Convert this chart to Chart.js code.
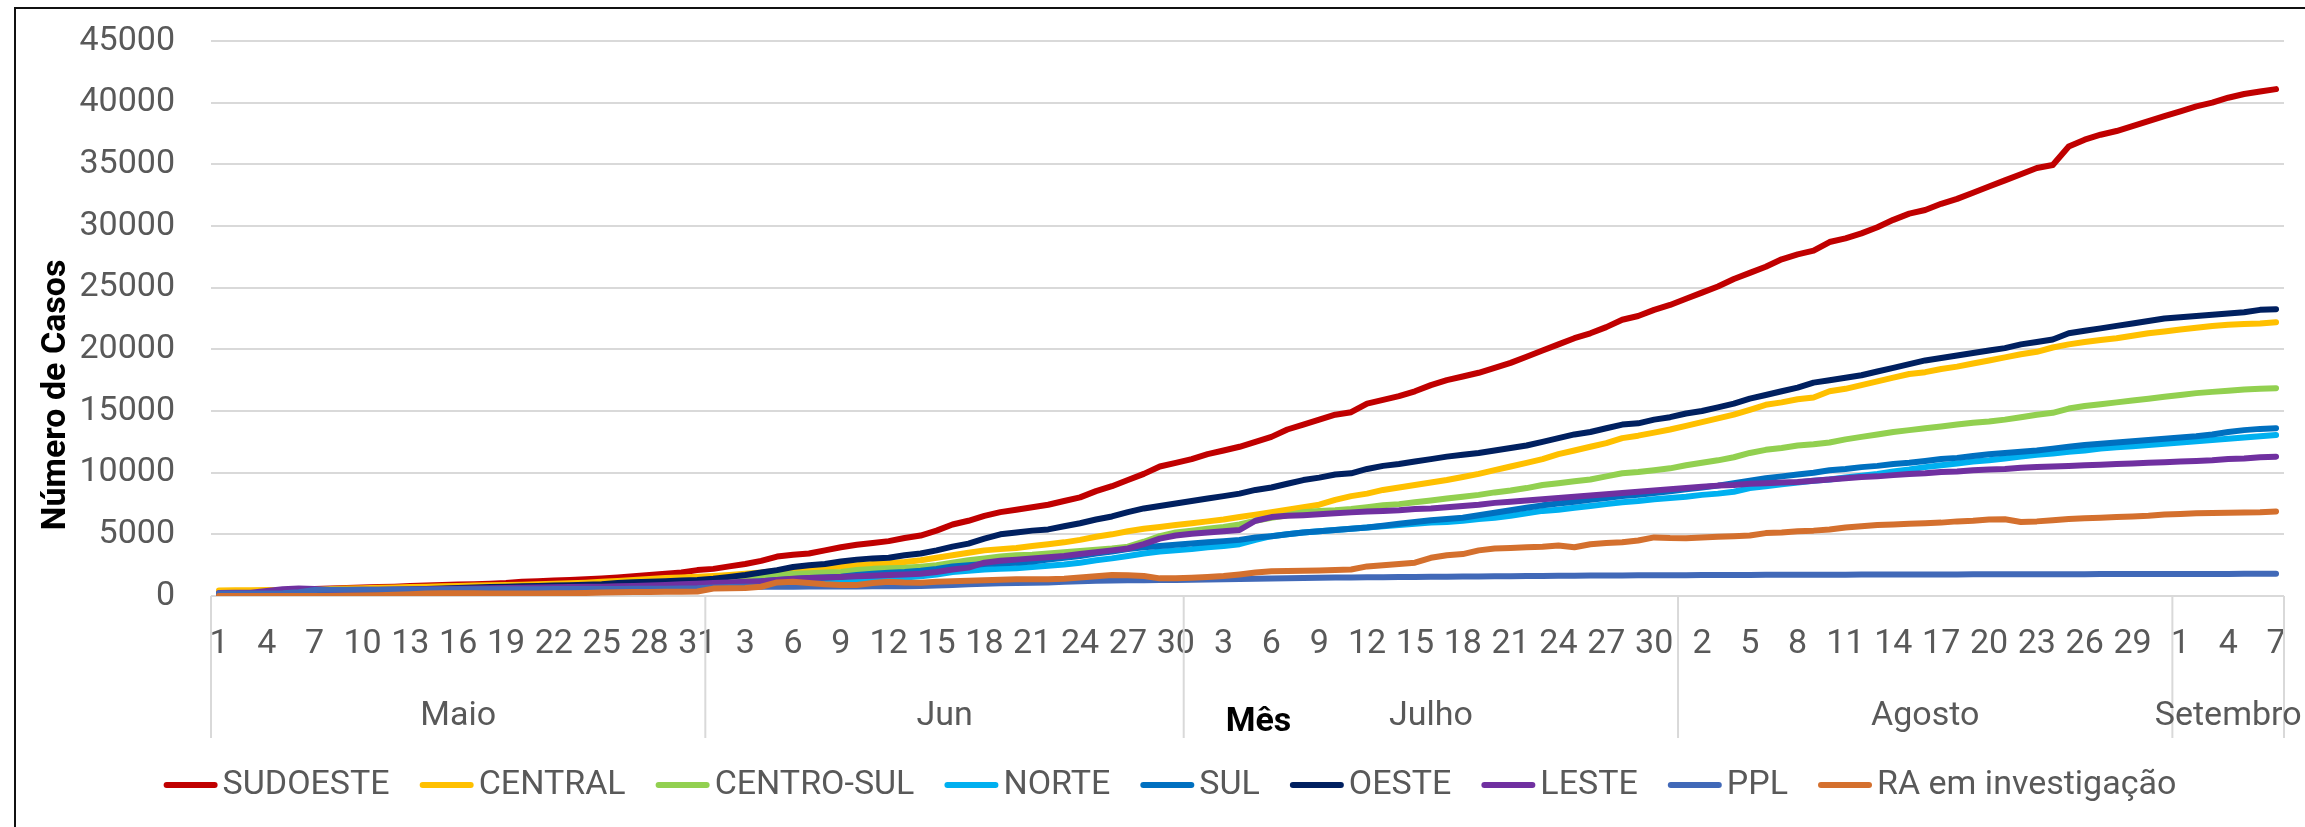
<!DOCTYPE html>
<html><head><meta charset="utf-8">
<script src="https://cdn.jsdelivr.net/npm/chart.js@4.4.1/dist/chart.umd.min.js"></script>
<style>html,body{margin:0;padding:0;background:#fff}#wrap{width:2305px;height:827px;position:relative}</style>
</head><body><div id="wrap"><canvas id="c" width="2305" height="827"></canvas></div>
<script>
// ---- categories ----
const monthNames = ['Maio', 'Jun', 'Julho', 'Agosto', 'Setembro'];
const monthDays = [31, 30, 31, 31, 7];
const yTickValues = [0, 5000, 10000, 15000, 20000, 25000, 30000, 35000, 40000, 45000];
const seriesNames = ['SUDOESTE', 'CENTRAL', 'CENTRO-SUL', 'NORTE', 'SUL', 'OESTE', 'LESTE', 'PPL', 'RA em investigação'];
const seriesColors = ['#C00000', '#FFC000', '#92D050', '#00B0F0', '#0070C0', '#002060', '#7030A0', '#4169B8', '#D4702E'];

// ---- series values (May 1 .. Sep 7) ----
const SUDOESTE = [
  300,320,350,380,420,480,560,600,640,680,720,760,810,850,890,930,960,1000,1060,1150,1200,1260,1300,1350,1420,1500,1600,1700,1800,1900,2100,
  2200,2400,2600,2850,3200,3350,3450,3700,3950,4150,4300,4450,4700,4900,5300,5800,6100,6500,6800,7000,7200,7400,7700,8000,8500,8900,9400,9900,10500,10800,
  11100,11500,11800,12100,12500,12900,13500,13900,14300,14700,14900,15600,15900,16200,16600,17100,17500,17800,18100,18500,18900,19400,19900,20400,20900,21300,21800,22400,22700,23200,23600,
  24100,24600,25100,25700,26200,26700,27300,27700,28000,28700,29000,29400,29900,30500,31000,31300,31800,32200,32700,33200,33700,34200,34700,34950,36450,37000,37400,37700,38100,38500,38900,
  39300,39700,40000,40400,40700,40900,41100];
const CENTRAL = [
  450,460,470,480,490,500,520,560,600,630,660,690,720,760,790,820,850,870,890,920,950,990,1030,1080,1150,1220,1300,1380,1450,1500,1560,
  1620,1700,1800,1900,2050,2150,2200,2300,2400,2500,2600,2650,2750,2900,3100,3300,3500,3700,3800,3900,4050,4200,4350,4550,4800,5000,5250,5450,5600,5750,
  5900,6050,6200,6400,6600,6800,7000,7200,7400,7800,8100,8300,8600,8800,9000,9200,9400,9650,9900,10200,10500,10800,11100,11500,11800,12100,12400,12800,13000,13250,13500,
  13800,14100,14400,14700,15100,15500,15700,15950,16100,16600,16800,17100,17400,17700,18000,18150,18400,18600,18850,19100,19350,19600,19800,20150,20400,20600,20750,20900,21100,21300,21450,
  21600,21750,21900,22000,22050,22100,22200];
const CENTRO_SUL = [
  200,210,220,240,260,280,300,320,340,360,380,400,420,440,460,480,500,520,540,560,580,600,620,640,660,690,720,760,800,860,940,
  1030,1200,1400,1550,1680,1800,1850,1900,1950,2100,2200,2250,2300,2380,2500,2700,2900,3050,3200,3300,3350,3450,3550,3650,3750,3850,4000,4400,4850,5150,
  5300,5450,5600,5800,6100,6350,6550,6800,6900,6950,7050,7200,7350,7450,7600,7750,7900,8050,8200,8400,8550,8750,9000,9150,9300,9450,9700,9950,10050,10200,10350,
  10600,10800,11000,11250,11600,11850,12000,12200,12300,12450,12700,12900,13100,13300,13450,13600,13750,13900,14050,14150,14300,14500,14700,14850,15200,15400,15550,15700,15850,16000,16150,
  16300,16450,16550,16650,16750,16800,16850];
const NORTE = [
  80,90,100,110,130,150,170,200,230,260,290,310,330,350,370,390,410,430,450,470,490,510,530,550,570,600,630,660,700,740,780,
  830,900,980,1050,1150,1200,1230,1260,1290,1330,1380,1430,1500,1600,1750,1950,2050,2150,2200,2250,2350,2450,2550,2700,2900,3050,3250,3450,3600,3700,
  3800,3950,4050,4200,4550,4850,5000,5150,5250,5350,5450,5550,5650,5750,5850,5950,6000,6100,6250,6350,6500,6700,6900,7000,7150,7300,7450,7600,7700,7850,7950,
  8050,8200,8300,8450,8750,8900,9050,9200,9350,9450,9600,9750,9900,10100,10250,10450,10600,10750,10900,11000,11150,11300,11450,11550,11700,11800,11950,12050,12150,12250,12350,
  12450,12550,12650,12750,12850,12950,13050];
const SUL = [
  100,110,120,140,160,180,200,230,260,290,320,340,360,380,400,420,440,460,480,500,520,540,560,580,600,630,660,700,740,790,850,
  920,1000,1100,1200,1300,1380,1450,1500,1560,1700,1800,1880,1950,2050,2200,2400,2500,2600,2650,2700,2800,2950,3100,3250,3450,3600,3800,3950,4050,4150,
  4250,4350,4450,4550,4750,4850,5000,5150,5250,5350,5450,5550,5700,5850,6000,6150,6250,6350,6550,6750,6950,7150,7350,7500,7650,7800,7950,8100,8200,8350,8500,
  8650,8800,8950,9150,9350,9550,9700,9850,10000,10200,10300,10450,10550,10700,10800,10950,11100,11200,11350,11500,11600,11700,11800,11950,12100,12250,12350,12450,12550,12650,12750,
  12850,12950,13100,13300,13450,13550,13600];
const OESTE = [
  100,120,150,180,220,260,300,340,380,420,450,480,520,560,600,640,680,720,760,790,820,850,880,920,960,1050,1120,1160,1200,1250,1300,
  1400,1550,1700,1900,2100,2350,2500,2600,2800,2950,3050,3100,3300,3450,3700,4000,4250,4650,5000,5150,5300,5400,5650,5900,6200,6450,6800,7100,7300,7500,
  7700,7900,8100,8300,8600,8800,9100,9400,9600,9850,9950,10300,10550,10700,10900,11100,11300,11450,11600,11800,12000,12200,12500,12800,13100,13300,13600,13900,14000,14300,14500,
  14800,15000,15300,15600,16000,16300,16600,16900,17300,17500,17700,17900,18200,18500,18800,19100,19300,19500,19700,19900,20100,20400,20600,20800,21300,21500,21700,21900,22100,22300,22500,
  22600,22700,22800,22900,23000,23200,23250];
const LESTE = [
  250,260,270,400,550,600,560,480,490,500,510,520,530,540,560,580,600,620,640,660,680,700,720,740,760,790,820,860,900,950,1000,
  1050,1100,1150,1200,1300,1400,1450,1500,1550,1600,1650,1700,1750,1800,1950,2150,2300,2700,2850,2950,3050,3150,3250,3400,3550,3700,3850,4200,4650,4900,
  5050,5150,5250,5350,6100,6400,6500,6550,6620,6700,6780,6850,6900,6950,7050,7100,7200,7300,7400,7550,7650,7750,7850,7950,8050,8150,8250,8350,8450,8550,8650,
  8750,8850,8950,9000,9100,9150,9200,9250,9350,9450,9550,9650,9700,9800,9900,9950,10050,10100,10200,10250,10300,10400,10450,10500,10550,10600,10650,10700,10750,10800,10850,
  10900,10950,11000,11100,11150,11250,11300];
const PPL = [
  200,200,200,210,220,300,480,500,500,510,510,520,520,530,530,540,540,540,550,550,550,560,560,560,570,570,580,580,590,600,620,
  680,720,740,750,760,760,770,770,780,780,790,790,800,810,850,900,950,1000,1030,1050,1080,1100,1150,1200,1240,1260,1270,1280,1290,1300,
  1320,1340,1360,1380,1400,1420,1440,1460,1480,1500,1510,1520,1530,1540,1550,1560,1570,1580,1590,1600,1610,1620,1630,1640,1650,1660,1670,1670,1680,1680,1690,
  1690,1700,1700,1710,1710,1720,1720,1720,1730,1730,1730,1740,1740,1740,1750,1750,1750,1750,1760,1760,1760,1760,1770,1770,1770,1770,1780,1780,1780,1780,1780,
  1790,1790,1790,1790,1800,1800,1800];
const RA_INVESTIGACAO = [
  0,0,0,0,0,0,0,0,20,40,60,100,150,200,220,220,220,210,200,200,210,220,230,250,280,300,320,330,340,350,360,
  600,620,640,750,1100,1150,1050,950,900,900,1050,1150,1100,1080,1150,1200,1240,1280,1320,1350,1350,1350,1400,1500,1600,1700,1690,1620,1430,1430,
  1480,1550,1620,1750,1900,2000,2030,2050,2070,2100,2150,2400,2500,2600,2700,3100,3300,3400,3700,3850,3900,3950,4000,4100,3950,4200,4300,4350,4500,4750,4700,
  4680,4750,4800,4850,4900,5100,5150,5250,5300,5400,5550,5650,5750,5800,5850,5900,5950,6050,6100,6200,6220,6000,6050,6150,6250,6300,6350,6400,6450,6500,6600,
  6650,6700,6720,6750,6780,6800,6850];

const seriesData = [SUDOESTE, CENTRAL, CENTRO_SUL, NORTE, SUL, OESTE, LESTE, PPL, RA_INVESTIGACAO];

// day labels and month groups built from the category arrays
const dayLabels = [];
const monthStart = [];
monthDays.forEach(n => { monthStart.push(dayLabels.length); for (let d = 1; d <= n; d++) dayLabels.push(String(d)); });
seriesData.forEach((s, k) => { if (s.length !== dayLabels.length) throw new Error(seriesNames[k] + ' has ' + s.length); });

const FONT = 'Roboto, "Noto Sans", sans-serif';
const FS = 34;
const GREY = '#595959';

const noPad = s => { s.paddingTop = 0; s.paddingBottom = 0; s.paddingLeft = 0; s.paddingRight = 0; };

const decor = {
  id: 'decor',
  afterDraw(chart) {
    const ctx = chart.ctx, xs = chart.scales.x, ca = chart.chartArea;
    const half = (xs.getPixelForValue(1) - xs.getPixelForValue(0)) / 2;
    ctx.save();
    // outer border
    ctx.strokeStyle = '#111'; ctx.lineWidth = 2;
    ctx.strokeRect(15, 8, 2400, 1000);
    // month separators & labels
    const bounds = monthStart.map(i => xs.getPixelForValue(i) - half);
    bounds.push(xs.getPixelForValue(dayLabels.length - 1) + half);
    ctx.strokeStyle = '#d9d9d9'; ctx.lineWidth = 2;
    bounds.forEach(b => { ctx.beginPath(); ctx.moveTo(b, ca.bottom); ctx.lineTo(b, ca.bottom + 142); ctx.stroke(); });
    ctx.fillStyle = GREY; ctx.font = FS + 'px ' + FONT; ctx.textAlign = 'center'; ctx.textBaseline = 'middle';
    monthNames.forEach((m, k) => ctx.fillText(m, (bounds[k] + bounds[k + 1]) / 2, ca.bottom + 120));
    // axis titles
    ctx.fillStyle = '#000'; ctx.font = 'bold ' + FS + 'px ' + FONT;
    ctx.fillText('Mês', (ca.left + ca.right) / 2 + 11, ca.bottom + 126);
    ctx.save(); ctx.translate(56, 395); ctx.rotate(-Math.PI / 2); ctx.fillText('Número de Casos', 0, 0); ctx.restore();
    // legend
    ctx.font = FS + 'px ' + FONT; ctx.textAlign = 'left';
    const sample = 54, gapT = 5, gapI = 30;
    const items = chart.data.datasets.map(ds => ({ label: ds.label, color: ds.borderColor, w: ctx.measureText(ds.label).width }));
    let total = items.reduce((a, it) => a + sample + gapT + it.w, 0) + gapI * (items.length - 1);
    let x = 1170 - total / 2; const y = 785;
    items.forEach(it => {
      ctx.strokeStyle = it.color; ctx.lineWidth = 6; ctx.lineCap = 'round';
      ctx.beginPath(); ctx.moveTo(x + 3, y); ctx.lineTo(x + sample - 3, y); ctx.stroke();
      ctx.fillStyle = GREY; ctx.fillText(it.label, x + sample + gapT, y);
      x += sample + gapT + it.w + gapI;
    });
    ctx.restore();
  }
};

new Chart(document.getElementById('c'), {
  type: 'line',
  data: {
    labels: dayLabels,
    datasets: seriesNames.map((n, k) => ({
      label: n, data: seriesData[k], borderColor: seriesColors[k], backgroundColor: seriesColors[k],
      borderWidth: 6, pointRadius: 0, tension: 0, fill: false,
      borderJoinStyle: 'round', borderCapStyle: 'round', order: seriesNames.length - k
    }))
  },
  options: {
    responsive: false, animation: false, devicePixelRatio: 1,
    layout: { padding: { top: 41, right: 21, left: 0, bottom: 0 } },
    plugins: { legend: { display: false }, tooltip: { enabled: false } },
    scales: {
      x: {
        type: 'category', offset: true,
        grid: { display: false, drawTicks: false }, border: { display: false },
        ticks: {
          autoSkip: false, maxRotation: 0, minRotation: 0, padding: 28, color: GREY,
          font: { size: FS, family: FONT },
          callback: function (v, i) { return i % 3 === 0 ? this.getLabelForValue(v) : ''; }
        },
        afterFit: s => { s.height = 231; noPad(s); }
      },
      y: {
        min: yTickValues[0], max: yTickValues[yTickValues.length - 1],
        grid: { color: '#d9d9d9', lineWidth: 2, drawTicks: false }, border: { display: false },
        afterBuildTicks: s => { s.ticks = yTickValues.map(v => ({ value: v })); },
        ticks: { padding: 36, color: GREY, font: { size: FS, family: FONT }, callback: v => String(v) },
        afterFit: s => { s.width = 211; noPad(s); }
      }
    }
  },
  plugins: [decor]
});
</script>
</body></html>
